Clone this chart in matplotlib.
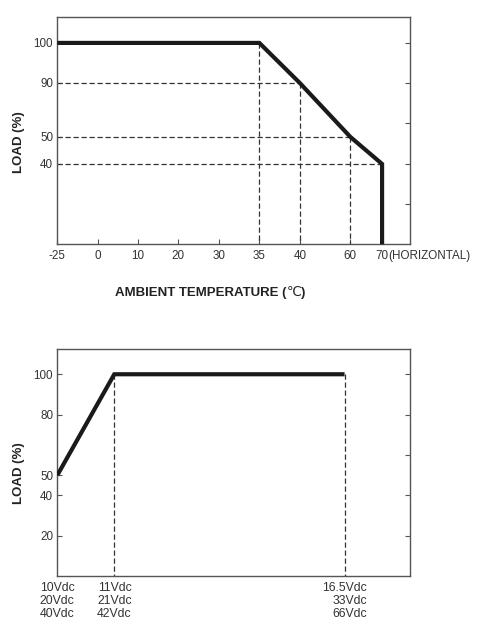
import numpy as np
import matplotlib
matplotlib.use("Agg")
import matplotlib.pyplot as plt

plt.rcParams['font.family'] = ['Liberation Sans', 'DejaVu Sans']

# ---------------- data ----------------
temps = [-25, 35, 40, 60, 70, 70]          # ambient temperature (°C)
temp_load = [100, 100, 90, 50, 40, 0]      # load (%)
temp_xticks = [-25, 0, 10, 20, 30, 35, 40, 60, 70]
temp_ylabels = [100, 90, 50, 40]
temp_yright = [100, 90, 60, 40, 20]

volts = [10, 11, 16.5]                     # input voltage (first range)
volt_load = [50, 100, 100]
volt_ticklabels = ["10Vdc\n20Vdc\n40Vdc", "11Vdc\n21Vdc\n42Vdc", "16.5Vdc\n33Vdc\n66Vdc"]
volt_ylabels = [100, 80, 50, 40, 20]
volt_yright = [100, 80, 60, 40, 20]

# ---------------- styles ----------------
LINE = '#1a1a1a'
SPINE = '#555555'
TXT = '#333333'
DASH = dict(color='#333333', lw=0.9, ls=(0, (4.2, 2.2)), zorder=2)
TICKFS = 8.4


def make_scale(vals, pos):
    vals = np.asarray(vals, float)
    pos = np.asarray(pos, float)
    fwd = lambda v: np.interp(v, vals, pos)
    inv = lambda p: np.interp(p, pos, vals)
    return fwd, inv


def style_axes(ax):
    for s in ax.spines.values():
        s.set_color(SPINE)
        s.set_linewidth(1.0)
    ax.tick_params(direction='in', length=3.6, width=0.8, color=SPINE,
                   labelcolor=TXT, labelsize=TICKFS, pad=3.0)


fig = plt.figure(figsize=(4.84, 6.35), dpi=100)

# ================= top chart =================
ax1 = fig.add_axes([57.3 / 484, 1 - 244.3 / 635, 353 / 484, 227 / 635])
tx = make_scale([-125, -25, 0, 10, 20, 30, 35, 40, 60, 70, 170],
                [-161.6, 0, 40.4, 80.7, 121, 161.4, 202, 242.4, 293, 324.7, 641.7])
ty = make_scale([-100, 0, 40, 50, 90, 100, 200],
                [-200, 0, 80.3, 107.3, 161.3, 201.3, 601.3])
ax1.set_xscale('function', functions=tx)
ax1.set_yscale('function', functions=ty)
ax1.set_xlim(-25, 78.9)
ax1.set_ylim(0, 106.4)

# guide lines
for x, y in zip(temps[1:5], temp_load[1:5]):
    ax1.plot([temps[0], x], [y, y], **DASH)
    ax1.plot([x, x], [y, 0], **DASH)
ax1.plot(temps, temp_load, color=LINE, lw=3.0, solid_joinstyle='miter',
         solid_capstyle='butt', zorder=3, clip_on=False)

style_axes(ax1)
ax1.set_xticks(temp_xticks)
ax1.set_xticklabels([str(t) for t in temp_xticks])
ax1.tick_params(axis='x', pad=4.0)
ax1.set_yticks(temp_ylabels)
ax1.set_yticklabels([str(v) for v in temp_ylabels])
ax1.annotate("(HORIZONTAL)", xy=(70, 0), xycoords=('data', 'axes fraction'),
             xytext=(4.6, -4.0), textcoords='offset points',
             ha='left', va='top', fontsize=TICKFS, color=TXT)

ax1r = ax1.twinx()
ax1r.set_yscale('function', functions=ty)
ax1r.set_ylim(0, 106.4)
ax1r.set_yticks(temp_yright)
ax1r.set_yticklabels([])
ax1r.tick_params(axis='y', direction='in', length=3.6, width=0.8, color=SPINE)
for s in ax1r.spines.values():
    s.set_visible(False)

fig.text(19 / 484, 1 - 141.7 / 635, "LOAD (%)", rotation=90, ha='center', va='center',
         fontsize=9.5, fontweight='bold', color='#222222')

# x label in pieces (bold text, light degree sign)
renderer = fig.canvas.get_renderer()
xl_y = 1 - 293 / 635
pieces = [("AMBIENT TEMPERATURE (", 'bold'), ("\u2103", 'normal'), (")", 'bold')]
x_cur = 115 / 484
for txt, w in pieces:
    t = fig.text(x_cur, xl_y, txt, ha='left', va='center', fontsize=9.5,
                 fontweight=w, color='#222222',
                 family=['Liberation Sans', 'DejaVu Sans'])
    bb = t.get_window_extent(renderer)
    x_cur = (bb.x1) / fig.bbox.width

# ================= bottom chart =================
ax2 = fig.add_axes([57.3 / 484, 1 - 576.3 / 635, 353 / 484, 227.3 / 635])
vx = make_scale([0, 10, 11, 16.5, 30], [-570, 0, 57, 287.4, 853])
ax2.set_xscale('function', functions=vx)
ax2.set_xlim(10, 18.07)
ax2.set_ylim(0, 112.5)

for x, y in zip(volts[1:], volt_load[1:]):
    ax2.plot([x, x], [y, 0], **DASH)
ax2.plot(volts, volt_load, color=LINE, lw=3.0, solid_joinstyle='miter',
         solid_capstyle='butt', zorder=3)

style_axes(ax2)
ax2.set_xticks(volts)
ax2.set_xticklabels(volt_ticklabels, fontsize=8.8, linespacing=1.12)
ax2.tick_params(axis='x', length=0, pad=4.0)
for lab in ax2.get_xticklabels():
    lab.set_multialignment('right')
ax2.set_yticks(volt_ylabels)
ax2.set_yticklabels([str(v) for v in volt_ylabels])

ax2r = ax2.twinx()
ax2r.set_ylim(0, 112.5)
ax2r.set_yticks(volt_yright)
ax2r.set_yticklabels([])
ax2r.tick_params(axis='y', direction='in', length=3.6, width=0.8, color=SPINE)
for s in ax2r.spines.values():
    s.set_visible(False)

fig.text(19 / 484, 1 - 473.3 / 635, "LOAD (%)", rotation=90, ha='center', va='center',
         fontsize=9.5, fontweight='bold', color='#222222')

fig.savefig("out.png", dpi=100)
